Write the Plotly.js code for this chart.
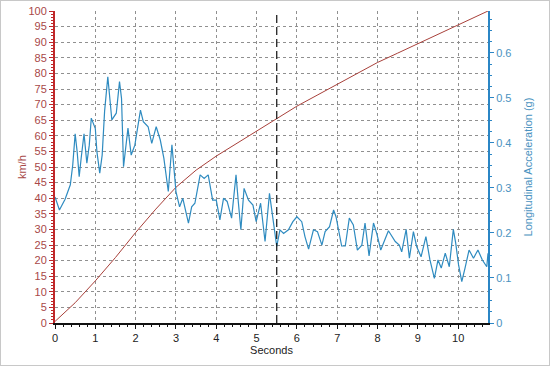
<!DOCTYPE html>
<html><head><meta charset="utf-8">
<script src="https://cdn.plot.ly/plotly-3.0.1.min.js"></script>
<style>
html,body{margin:0;padding:0;background:#fff;}
#wrap{position:relative;width:550px;height:366px;}
#chart{width:550px;height:366px;}
#frame{position:absolute;left:0;top:0;width:548px;height:364px;border:1px solid #c8c8c8;pointer-events:none;}
</style></head>
<body>
<div id="wrap"><div id="chart"></div><div id="frame"></div></div>
<script>
// Speed (km/h) vs time (s)
const speedTime = [0, 0.5, 1, 1.5, 2, 2.5, 3, 3.5, 4, 4.5, 5, 5.5, 6, 6.5, 7, 7.5, 8, 8.5, 9, 9.5, 10, 10.5, 10.74];
const speedKmh  = [0.5, 6.5, 13.5, 21, 29, 36.5, 43.5, 49, 53.5, 57.5, 61.5, 65.5, 69.5, 73, 76.5, 80, 83.5, 86.5, 89.5, 92.5, 95.5, 98.5, 100];

// Longitudinal acceleration (g) vs time (s)
const accelTime = [0, 0.11, 0.25, 0.38, 0.44, 0.50, 0.55, 0.60, 0.65, 0.72, 0.79, 0.85, 0.90, 1.0, 1.04, 1.11, 1.17, 1.23, 1.31, 1.35, 1.41, 1.52, 1.60, 1.65, 1.70, 1.81, 1.89, 1.98, 2.12, 2.19, 2.31, 2.40, 2.51, 2.61, 2.70, 2.81, 2.90, 3.0, 3.09, 3.17, 3.31, 3.39, 3.47, 3.60, 3.70, 3.80, 3.91, 4.0, 4.09, 4.18, 4.27, 4.38, 4.49, 4.55, 4.61, 4.69, 4.80, 4.91, 4.99, 5.10, 5.21, 5.32, 5.40, 5.50, 5.58, 5.67, 5.79, 5.90, 6.0, 6.12, 6.20, 6.29, 6.41, 6.51, 6.62, 6.70, 6.81, 6.91, 6.97, 7.11, 7.20, 7.30, 7.40, 7.50, 7.61, 7.69, 7.79, 7.90, 7.98, 8.08, 8.27, 8.44, 8.54, 8.60, 8.71, 8.79, 8.89, 8.97, 9.08, 9.20, 9.30, 9.41, 9.50, 9.58, 9.68, 9.78, 9.88, 9.94, 10.01, 10.09, 10.17, 10.27, 10.38, 10.49, 10.60, 10.71, 10.74];
const accelG = [0.28, 0.251, 0.275, 0.307, 0.351, 0.42, 0.38, 0.325, 0.367, 0.42, 0.355, 0.395, 0.455, 0.432, 0.38, 0.333, 0.373, 0.47, 0.547, 0.507, 0.451, 0.466, 0.536, 0.499, 0.347, 0.433, 0.373, 0.395, 0.473, 0.447, 0.436, 0.399, 0.436, 0.407, 0.366, 0.292, 0.396, 0.292, 0.258, 0.277, 0.222, 0.258, 0.266, 0.329, 0.321, 0.329, 0.273, 0.273, 0.229, 0.277, 0.27, 0.233, 0.329, 0.266, 0.207, 0.299, 0.273, 0.262, 0.225, 0.266, 0.181, 0.288, 0.236, 0.170, 0.207, 0.199, 0.207, 0.225, 0.236, 0.225, 0.192, 0.164, 0.207, 0.203, 0.173, 0.203, 0.214, 0.251, 0.236, 0.171, 0.171, 0.233, 0.218, 0.162, 0.173, 0.222, 0.149, 0.222, 0.199, 0.162, 0.205, 0.181, 0.173, 0.158, 0.208, 0.144, 0.203, 0.17, 0.147, 0.192, 0.14, 0.099, 0.14, 0.122, 0.155, 0.125, 0.208, 0.177, 0.129, 0.092, 0.122, 0.162, 0.144, 0.162, 0.14, 0.125, 0.155];

// Tick labels
const xTicks = [0, 1, 2, 3, 4, 5, 6, 7, 8, 9, 10];
const leftTicks = [0, 5, 10, 15, 20, 25, 30, 35, 40, 45, 50, 55, 60, 65, 70, 75, 80, 85, 90, 95, 100];
const rightTicks = [0, 0.1, 0.2, 0.3, 0.4, 0.5, 0.6];
const markerTime = 5.5;

const font = 'Liberation Sans, Arial, sans-serif';
const red = '#c0282a', redText = '#a84848', blue = '#2b86c5', blueText = '#4a92c0';

const traces = [
  {x: speedTime, y: speedKmh, type: 'scatter', mode: 'lines', line: {color: '#a8403a', width: 1}, yaxis: 'y', hoverinfo: 'skip'},
  {x: accelTime, y: accelG, type: 'scatter', mode: 'lines', line: {color: '#2e8bc0', width: 1.2}, yaxis: 'y2', hoverinfo: 'skip'}
];

const layout = {
  width: 550, height: 366,
  margin: {l: 55, r: 62, t: 11, b: 43},
  paper_bgcolor: '#fff', plot_bgcolor: '#fff',
  showlegend: false,
  font: {family: font, size: 11, color: '#222'},
  xaxis: {
    range: [0, 10.74], tickvals: xTicks, ticktext: xTicks.map(String),
    showline: true, linecolor: '#111', linewidth: 2, ticks: 'outside', ticklen: 4, tickcolor: '#111',
    minor: {dtick: 0.2, ticks: 'outside', ticklen: 2, tickcolor: '#111', showgrid: false},
    showgrid: true, gridcolor: '#909090', griddash: '3px,3px', gridwidth: 1,
    zeroline: false, tickfont: {size: 11, color: '#222'},
    title: {text: 'Seconds', font: {size: 11, color: '#222'}, standoff: 3}
  },
  yaxis: {
    range: [0, 100], tickvals: leftTicks, ticktext: leftTicks.map(String),
    showline: true, linecolor: red, linewidth: 2, ticks: 'outside', ticklen: 4, tickcolor: red,
    minor: {dtick: 1, ticks: 'outside', ticklen: 2, tickcolor: red, showgrid: false},
    showgrid: true, gridcolor: '#909090', griddash: '3px,3px', gridwidth: 1,
    zeroline: false, tickfont: {size: 11, color: redText}
  },
  yaxis2: {
    range: [0, 0.693], overlaying: 'y', side: 'right',
    tickvals: rightTicks, ticktext: rightTicks.map(String),
    showline: true, linecolor: blue, linewidth: 2, ticks: 'outside', ticklen: 4, tickcolor: blue,
    minor: {dtick: 0.025, ticks: 'outside', ticklen: 2, tickcolor: blue, showgrid: false},
    showgrid: false, zeroline: false, tickfont: {size: 11, color: blueText},
    title: {text: 'Longitudinal Acceleration (g)', font: {size: 11, color: blueText}, standoff: 14}
  },
  annotations: [
    {text: 'km/h', xref: 'paper', yref: 'paper', x: -0.076, y: 0.5, xanchor: 'center', yanchor: 'middle',
     textangle: -90, showarrow: false, font: {size: 11, color: redText}}
  ],
  shapes: [
    {type: 'line', xref: 'x', yref: 'paper', x0: markerTime, x1: markerTime, y0: 0, y1: 1,
     line: {color: '#111', width: 1.2, dash: '8px,4px'}}
  ]
};

Plotly.newPlot('chart', traces, layout, {displayModeBar: false, staticPlot: true});
</script>
</body></html>
